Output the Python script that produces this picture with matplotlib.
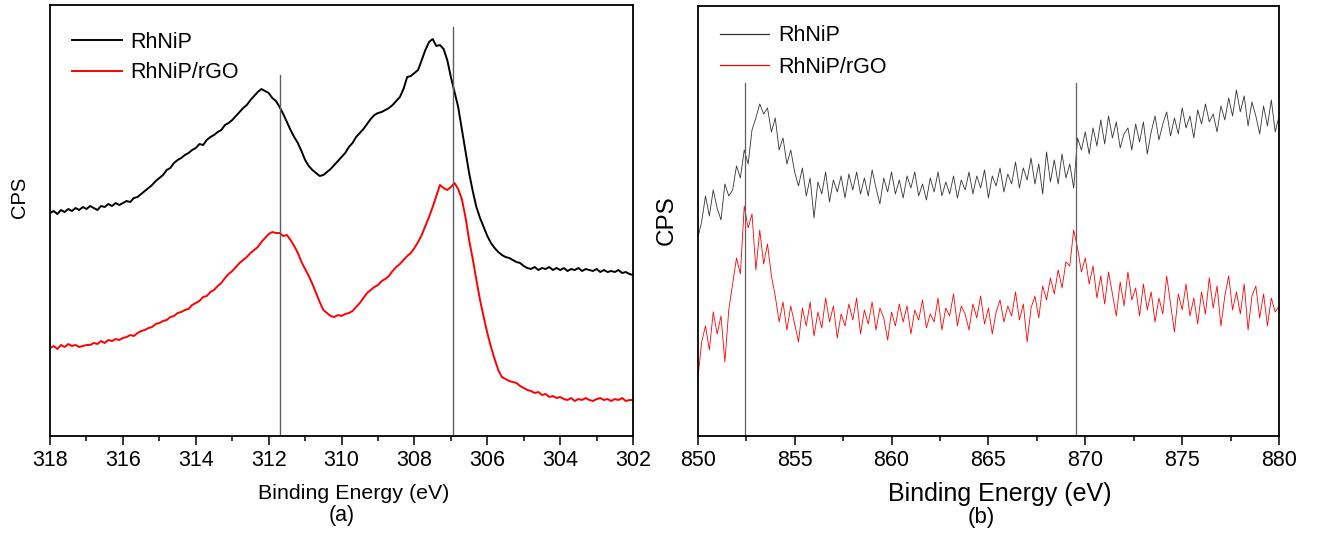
import matplotlib
matplotlib.use('Agg')
import matplotlib.pyplot as plt
from matplotlib.ticker import MultipleLocator, NullLocator
import numpy as np

plt.rcParams['font.family'] = ['Liberation Sans', 'DejaVu Sans']

# ---- panel (a): Rh 3d region, 318 -> 302 eV, 0.1 eV steps ----
rh_black = [
    221, 223, 220, 224, 222, 225, 223, 226, 224, 227,
    225, 228, 226, 224, 228, 227, 230, 228, 231, 229,
    231, 233, 232, 236, 237, 240, 243, 246, 249, 253,
    256, 259, 264, 266, 271, 274, 276, 279, 281, 284,
    286, 290, 289, 294, 297, 299, 302, 304, 309, 311,
    314, 318, 322, 326, 329, 334, 338, 342, 345, 343,
    341, 336, 333, 327, 320, 312, 304, 297, 291, 283,
    274, 268, 264, 261, 258, 259, 262, 265, 269, 273,
    277, 281, 287, 291, 297, 301, 305, 310, 315, 319,
    321, 322, 324, 326, 329, 333, 337, 345, 357, 358,
    361, 364, 374, 384, 392, 395, 388, 389, 385, 374,
    357, 342, 327, 305, 283, 261, 243, 227, 216, 207,
    198, 191, 186, 182, 179, 177, 176, 174, 172, 171,
    168, 166, 165, 167, 164, 166, 165, 167, 164, 166,
    164, 166, 163, 165, 164, 166, 163, 165, 164, 163,
    165, 162, 164, 162, 163, 162, 164, 161, 162, 160,
    159]
rh_red = [
    86, 88, 85, 89, 87, 90, 88, 89, 87, 88,
    89, 89, 91, 90, 93, 91, 94, 93, 95, 94,
    96, 97, 99, 98, 101, 103, 104, 106, 107, 110,
    111, 113, 114, 117, 118, 121, 122, 124, 125, 129,
    131, 133, 137, 138, 142, 144, 148, 151, 156, 160,
    163, 167, 171, 174, 177, 181, 184, 187, 192, 196,
    200, 202, 201, 201, 198, 199, 194, 188, 181, 172,
    165, 158, 150, 141, 132, 124, 121, 118, 117, 119,
    118, 120, 121, 123, 127, 131, 136, 141, 144, 147,
    149, 153, 155, 158, 163, 167, 170, 174, 178, 181,
    186, 192, 199, 208, 217, 227, 238, 249, 246, 244,
    247, 251, 245, 235, 217, 194, 175, 154, 134, 117,
    101, 87, 75, 64, 57, 55, 53, 52, 51, 48,
    46, 44, 43, 41, 42, 39, 40, 37, 38, 36,
    37, 35, 34, 36, 33, 35, 34, 36, 34, 33,
    35, 36, 34, 35, 33, 35, 34, 36, 33, 34,
    34]
rh_lines = [311.7, 306.95]
rh_line_tops = [359, 407]

# ---- panel (b): Ni 2p region, 850 -> 880 eV, 0.2 eV steps ----
ni_black = [
    196, 212, 238, 218, 244, 226, 214, 250, 238, 244,
    268, 256, 284, 270, 304, 316, 330, 320, 326, 302,
    316, 284, 296, 270, 284, 262, 248, 266, 238, 256,
    216, 252, 240, 262, 232, 254, 242, 258, 236, 260,
    244, 262, 240, 256, 238, 264, 246, 230, 256, 242,
    262, 240, 254, 236, 258, 246, 262, 238, 250, 234,
    256, 242, 262, 238, 252, 240, 258, 236, 254, 244,
    262, 240, 258, 246, 264, 236, 258, 248, 266, 242,
    260, 250, 272, 246, 266, 254, 276, 250, 270, 240,
    282, 252, 274, 250, 280, 256, 270, 246, 296, 284,
    302, 280, 306, 288, 314, 290, 318, 296, 312, 286,
    300, 306, 284, 310, 292, 312, 280, 302, 318, 294,
    310, 322, 298, 316, 300, 326, 306, 318, 296, 324,
    310, 330, 312, 320, 302, 328, 314, 336, 318, 344,
    322, 338, 308, 332, 318, 300, 328, 308, 334, 302,
    318]
ni_red = [
    54, 92, 108, 84, 122, 100, 118, 72, 124, 150,
    176, 160, 228, 206, 220, 164, 204, 170, 190, 158,
    138, 112, 132, 104, 128, 110, 92, 126, 108, 132,
    98, 122, 106, 136, 112, 128, 96, 120, 108, 130,
    114, 136, 100, 124, 110, 132, 104, 126, 116, 94,
    122, 108, 130, 112, 128, 100, 124, 114, 134, 106,
    120, 112, 136, 104, 126, 118, 140, 108, 128, 120,
    104, 130, 116, 138, 110, 126, 100, 122, 134, 112,
    128, 118, 142, 114, 130, 92, 126, 138, 116, 148,
    134, 156, 140, 164, 146, 172, 168, 204, 186, 162,
    176, 150, 168, 136, 158, 130, 162, 140, 118, 152,
    128, 162, 134, 146, 118, 150, 124, 142, 112, 136,
    120, 158, 130, 102, 140, 124, 150, 118, 136, 110,
    142, 120, 156, 126, 148, 108, 138, 158, 124, 142,
    120, 150, 104, 138, 148, 116, 140, 108, 136, 122,
    128]
ni_lines = [852.45, 869.5]
ni_line_tops = [351, 351]

labels = ['RhNiP', 'RhNiP/rGO']

rh_e = np.linspace(318, 302, len(rh_black))
ni_e = np.linspace(850, 880, len(ni_black))

fig = plt.figure(figsize=(13.17, 5.39), dpi=100)
ax1 = fig.add_axes([0.038, 0.192, 0.4427, 0.7987])
ax2 = fig.add_axes([0.5298, 0.192, 0.4414, 0.797])

# panel (a)
ax1.plot(rh_e, rh_black, color='black', lw=1.4, label=labels[0])
ax1.plot(rh_e, rh_red, color='#ff0000', lw=1.4, label=labels[1])
for x, top in zip(rh_lines, rh_line_tops):
    ax1.plot([x, x], [-5, top], color='#606060', lw=1.0)
ax1.set_xlim(318, 302)
ax1.set_ylim(-1.5, 429)
ax1.xaxis.set_major_locator(MultipleLocator(2))
ax1.xaxis.set_minor_locator(MultipleLocator(1))
ax1.set_xlabel('Binding Energy (eV)', fontsize=15.4, va='center')
ax1.xaxis.set_label_coords(0.52, -57.5 / 430.5)
ax1.legend(loc='upper left', bbox_to_anchor=(0.038, 0.938), frameon=False,
           fontsize=15.5, handlelength=2.3, handletextpad=0.4,
           borderpad=0, borderaxespad=0, labelspacing=0.45)

# panel (b)
ax2.plot(ni_e, ni_black, color='#333333', lw=0.6, label=labels[0])
ax2.plot(ni_e, ni_red, color='#ff0000', lw=0.6, label=labels[1])
for x, top in zip(ni_lines, ni_line_tops):
    ax2.plot([x, x], [-5, top], color='#606060', lw=0.9)
ax2.set_xlim(850, 880)
ax2.set_ylim(-1.5, 428)
ax2.xaxis.set_major_locator(MultipleLocator(5))
ax2.xaxis.set_minor_locator(MultipleLocator(2.5))
ax2.set_xlabel('Binding Energy (eV)', fontsize=18, va='center')
ax2.xaxis.set_label_coords(0.52, -58.5 / 429.5)
leg2 = ax2.legend(loc='upper left', bbox_to_anchor=(0.038, 0.955), frameon=False,
                  fontsize=15.5, handlelength=2.3, handletextpad=0.4,
                  borderpad=0, borderaxespad=0, labelspacing=0.5)
for h in leg2.get_lines():
    h.set_linewidth(0.9)

for ax in (ax1, ax2):
    ax.yaxis.set_major_locator(NullLocator())
    ax.tick_params(axis='x', which='major', direction='out', length=6.5, width=1.1,
                   labelsize=15.5, pad=4)
    ax.tick_params(axis='x', which='minor', direction='out', length=3.6, width=1.1)
    for s in ax.spines.values():
        s.set_linewidth(1.3)

fig.text(19 / 1317, 1 - 197 / 539, 'CPS', rotation=90, fontsize=14.5,
         ha='center', va='center')
fig.text(667 / 1317, 1 - 220 / 539, 'CPS', rotation=90, fontsize=17.5,
         ha='center', va='center')
fig.text(342 / 1317, 1 - 516 / 539, '(a)', fontsize=15.5, ha='center', va='center')
fig.text(981 / 1317, 1 - 517 / 539, '(b)', fontsize=16, ha='center', va='center')

fig.savefig('out.png', dpi=100)
